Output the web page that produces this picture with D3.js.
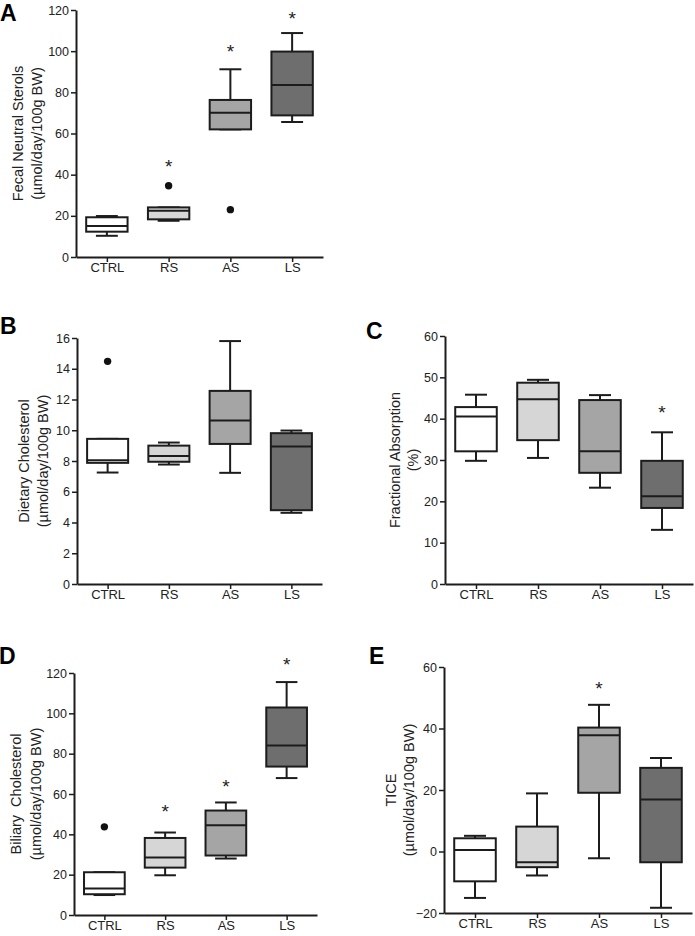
<!DOCTYPE html>
<html><head><meta charset="utf-8">
<script src="https://cdn.jsdelivr.net/npm/d3@7"></script>
<style>
body{margin:0;background:#fff}
text{font-family:Arial,"Liberation Sans",Helvetica,sans-serif;fill:#222}
</style>
</head><body><svg id="c" width="695" height="936"></svg>
<script>
const categories = ["CTRL", "RS", "AS", "LS"];

// Panel A – Fecal neutral sterols
const fecalMin = [10.3, 17.6, 62.0, 65.6];
const fecalQ1  = [12.3, 18.3, 62.0, 68.8];
const fecalMed = [15.1, 22.5, 70.1, 83.6];
const fecalQ3  = [19.3, 24.1, 76.3, 99.8];
const fecalMax = [19.9, 24.1, 91.2, 108.8];
const fecalOutliers = [[], [34.6], [23.0], []];
const fecalSig = [null, 45.8, 101.4, 117.6];
const fecalTicks = [0, 20, 40, 60, 80, 100, 120];

// Panel B – Dietary cholesterol
const dietMin = [7.25, 7.77, 7.23, 4.63];
const dietQ1  = [7.88, 7.95, 9.11, 4.80];
const dietMed = [8.05, 8.33, 10.63, 8.94];
const dietQ3  = [9.44, 9.00, 12.56, 9.81];
const dietMax = [9.44, 9.20, 15.80, 9.98];
const dietOutliers = [[14.48], [], [], []];
const dietSig = [null, null, null, null];
const dietTicks = [0, 2, 4, 6, 8, 10, 12, 14, 16];

// Panel C – Fractional absorption
const fracMin = [29.8, 30.5, 23.3, 13.1];
const fracQ1  = [32.1, 34.8, 26.9, 18.4];
const fracMed = [40.5, 44.7, 32.1, 21.2];
const fracQ3  = [42.8, 48.7, 44.5, 29.8];
const fracMax = [45.8, 49.4, 45.7, 36.7];
const fracOutliers = [[], [], [], []];
const fracSig = [null, null, null, 42.3];
const fracTicks = [0, 10, 20, 30, 40, 50, 60];

// Panel D – Biliary cholesterol
const biliMin = [9.9, 19.7, 28.0, 67.9];
const biliQ1  = [10.3, 23.5, 29.5, 73.6];
const biliMed = [13.2, 28.5, 44.5, 84.1];
const biliQ3  = [21.2, 38.2, 51.8, 102.9];
const biliMax = [21.2, 40.9, 55.8, 115.5];
const biliOutliers = [[43.7], [], [], []];
const biliSig = [null, 53.3, 65.7, 125.8];
const biliTicks = [0, 20, 40, 60, 80, 100, 120];

// Panel E – TICE
const ticeMin = [-15.1, -7.8, -2.2, -18.3];
const ticeQ1  = [-9.7, -5.1, 19.1, -3.5];
const ticeMed = [0.5, -3.5, 37.8, 16.9];
const ticeQ3  = [4.3, 8.1, 40.3, 27.2];
const ticeMax = [5.1, 18.9, 47.7, 30.4];
const ticeOutliers = [[], [], [], []];
const ticeSig = [null, null, 54.0, null];
const ticeTicks = [-20, 0, 20, 40, 60];

const fills = ["#ffffff", "#d6d6d6", "#a5a5a5", "#6e6e6e"];
const strokeCol = "#1c1c1c";

const panels = [
  {letter:"A", lx:0, ly:21, min:fecalMin, q1:fecalQ1, med:fecalMed, q3:fecalQ3, max:fecalMax, out:fecalOutliers, sig:fecalSig,
   ticks:fecalTicks, domain:[0,120], x0:76, x1:323, y0:257, y1:10,
   title:["Fecal Neutral Sterols","(\u00b5mol/day/100g BW)"], tx:[22.5,42]},
  {letter:"B", lx:0, ly:334, min:dietMin, q1:dietQ1, med:dietMed, q3:dietQ3, max:dietMax, out:dietOutliers, sig:dietSig,
   ticks:dietTicks, domain:[0,16], x0:77, x1:322, y0:584, y1:338,
   title:["Dietary Cholesterol","(\u00b5mol/day/100g BW)"], tx:[29,48]},
  {letter:"C", lx:366, ly:339, min:fracMin, q1:fracQ1, med:fracMed, q3:fracQ3, max:fracMax, out:fracOutliers, sig:fracSig,
   ticks:fracTicks, domain:[0,60], x0:445, x1:693, y0:584, y1:336,
   title:["Fractional Absorption","(%)"], tx:[400,418]},
  {letter:"D", lx:-1, ly:664, min:biliMin, q1:biliQ1, med:biliMed, q3:biliQ3, max:biliMax, out:biliOutliers, sig:biliSig,
   ticks:biliTicks, domain:[0,120], x0:74, x1:317, y0:915, y1:673,
   title:["Biliary  Cholesterol","(\u00b5mol/day/100g BW)"], tx:[20.5,40.5]},
  {letter:"E", lx:369, ly:664, min:ticeMin, q1:ticeQ1, med:ticeMed, q3:ticeQ3, max:ticeMax, out:ticeOutliers, sig:ticeSig,
   ticks:ticeTicks, domain:[-20,60], x0:444, x1:692, y0:913, y1:667,
   title:["TICE","(\u00b5mol/day/100g BW)"], tx:[395.5,414]}
];

const svg = d3.select("#c");

panels.forEach(p => {
  const g = svg.append("g");
  const x = d3.scalePoint().domain(categories).range([p.x0, p.x1]).padding(0.5);
  const y = d3.scaleLinear().domain(p.domain).range([p.y0, p.y1]);
  const step = x.step();
  const bw = step * 0.67;
  const cw = bw * 0.53;

  // panel letter
  g.append("text").attr("x", p.lx).attr("y", p.ly)
    .attr("font-size", 23).attr("font-weight", "bold").style("fill","#000")
    .text(p.letter);

  // axis titles
  const cy = (p.y0 + p.y1) / 2;
  p.title.forEach((t, i) => {
    g.append("text")
      .attr("transform", `translate(${p.tx[i]},${cy}) rotate(-90)`)
      .attr("text-anchor", "middle")
      .attr("font-size", 14.5)
      .style("white-space", "pre")
      .text(t);
  });

  // boxes
  categories.forEach((c, i) => {
    const cx = x(c);
    const bg = g.append("g");
    const line = (x1, y1, x2, y2) => bg.append("line")
      .attr("x1", x1).attr("y1", y1).attr("x2", x2).attr("y2", y2)
      .attr("stroke", strokeCol).attr("stroke-width", 2);
    line(cx, y(p.q3[i]), cx, y(p.max[i]));
    line(cx - cw/2, y(p.max[i]), cx + cw/2, y(p.max[i]));
    line(cx, y(p.q1[i]), cx, y(p.min[i]));
    line(cx - cw/2, y(p.min[i]), cx + cw/2, y(p.min[i]));
    bg.append("rect")
      .attr("x", cx - bw/2).attr("y", y(p.q3[i]))
      .attr("width", bw).attr("height", y(p.q1[i]) - y(p.q3[i]))
      .attr("fill", fills[i]).attr("stroke", strokeCol).attr("stroke-width", 2);
    line(cx - bw/2, y(p.med[i]), cx + bw/2, y(p.med[i]));
    p.out[i].forEach(v => {
      bg.append("circle").attr("cx", cx).attr("cy", y(v)).attr("r", 3.7).attr("fill", "#111");
    });
    if (p.sig[i] !== null) {
      bg.append("text").attr("x", cx).attr("y", y(p.sig[i]) + 10)
        .attr("text-anchor", "middle").attr("font-size", 19).text("*");
    }
  });

  // axes
  const xa = g.append("g").attr("transform", `translate(0,${p.y0})`)
    .call(d3.axisBottom(x).tickSize(5).tickSizeOuter(0).tickPadding(1));
  const ya = g.append("g").attr("transform", `translate(${p.x0},0)`)
    .call(d3.axisLeft(y).tickValues(p.ticks).tickSize(5).tickSizeOuter(0).tickPadding(2).tickFormat(d3.format("d")));
  [xa, ya].forEach(a => {
    a.select(".domain").attr("stroke", strokeCol).attr("stroke-width", 2);
    a.selectAll(".tick line").attr("stroke", strokeCol).attr("stroke-width", 1.5);
    a.selectAll(".tick text").attr("fill", "#222").style("font-family", "Arial, 'Liberation Sans', sans-serif");
  });
  xa.selectAll(".tick text").attr("font-size", 13);
  ya.selectAll(".tick text").attr("font-size", 12.5);
});
</script>
</body></html>
